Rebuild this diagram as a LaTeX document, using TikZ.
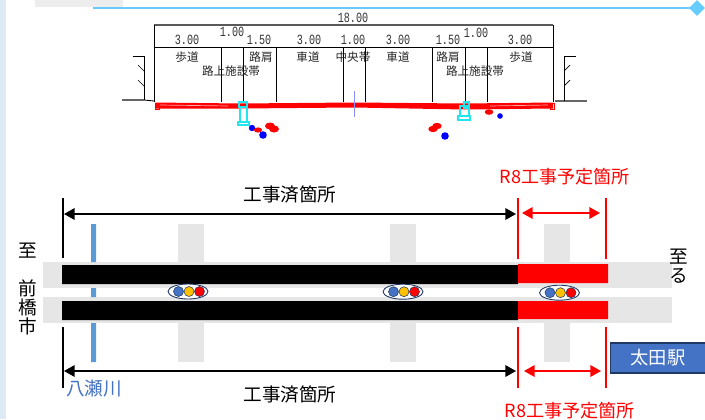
\documentclass[tikz,border=0pt]{standalone}
\usepackage{fontspec}
\usepackage{tikz}
\setmainfont{Noto Sans CJK JP}
\newfontfamily\dimfont[FakeStretch=0.72]{Liberation Mono}
\usetikzlibrary{arrows.meta,shapes.geometric}

\definecolor{stripblue}{HTML}{DEEAF6}
\definecolor{linecyan}{HTML}{66CCFF}
\definecolor{roadgray}{HTML}{E6E6E6}
\definecolor{riverblue}{HTML}{5B9BD5}
\definecolor{boxblue}{HTML}{4472C4}
\definecolor{boxedge}{HTML}{1F3864}
\definecolor{signalgold}{HTML}{FFC000}
\definecolor{pilecyan}{HTML}{22E6EE}

\tikzset{
  dimlabel/.style={inner sep=0pt,font=\dimfont\fontsize{8}{9}\selectfont,text=black!80},
  seclabel/.style={inner sep=0pt,font=\fontsize{6.6}{8}\selectfont,text=black!85},
  biglabel/.style={inner sep=0pt,font=\fontsize{10.6}{10.8}\selectfont,align=center},
  planlabel/.style={inner sep=0pt,font=\fontsize{10.3}{10.8}\selectfont,text=red},
  bigarrow/.style={line width=0.9pt,{Triangle[length=6pt,width=6.5pt]}-{Triangle[length=6pt,width=6.5pt]}},
  redarrow/.style={bigarrow,red},
  endline/.style={line width=0.9pt}
}

\begin{document}
\begin{tikzpicture}[x=0.02cm,y=-0.02cm]
\useasboundingbox (0,0) rectangle (705,419);

% Page furniture
\fill[stripblue] (0,0) rectangle (6,419);
\fill[black!7] (35,0) rectangle (123,7);
\draw[linecyan,line width=1.1pt] (93,8) -- (697,8);
\node[diamond,fill=linecyan,minimum width=0.32cm,minimum height=0.32cm,inner sep=0pt] (mark) at (697,8) {};

% Cross section, dimension lines
\draw[black!65,line width=1.1pt] (154,25) -- (553,25);
\draw[line width=0.55pt] (154,47) -- (553,47);
\foreach \x in {154,221,243,276,343,365,432,465,487,553} {
    \draw[line width=0.55pt] (\x,47) -- (\x,102);
}
\draw[line width=0.55pt] (154,25) -- (154,47);
\draw[line width=0.55pt] (553,25) -- (553,47);

\foreach \x/\y/\val [count=\i] in {353/18/18.00,187/40/3.00,232/32/1.00,259/40/1.50,309/40/3.00,353/40/1.00,398/40/3.00,448/40/1.50,476/33/1.00,520/40/3.00} {
    \node[dimlabel] (dim\i) at (\x,\y) {\val};
}
\foreach \x/\name [count=\i] in {187/歩道,261/路肩,308/車道,353/中央帯,398/車道,448/路肩,521/歩道} {
    \node[seclabel] (sec\i) at (\x,57) {\name};
}
\node[seclabel] (facL) at (231,71) {路上施設帯};
\node[seclabel] (facR) at (475,71) {路上施設帯};

% Ground and walls on both sides
\draw[black!60,line width=0.6pt] (122,100) -- (144,100);
\draw[line width=0.5pt] (144,100) -- (154,101);
\draw[line width=0.5pt] (133,56) -- (144,56) -- (144,100);
\draw[line width=0.4pt] (138,65) -- (144,71) (138,80) -- (144,86);
\draw[black!60,line width=0.6pt] (555,101) -- (587,101);
\draw[line width=0.5pt] (576,56) -- (564,56) -- (564,101);
\draw[line width=0.4pt] (564,71) -- (570,65) (564,86) -- (570,80);

% Pavement
\fill[red] (155,102.5) -- (240,103.5) -- (354,102.5) -- (465,103.5) -- (553,102.5) -- (553,108.5) -- (465,109.5) -- (354,107.5) -- (240,108.5) -- (155,108.5) -- cycle;
\draw[red!35,line width=0.4pt] (160,105) -- (228,106) (490,106) -- (548,105);
\draw[red,line width=0.4pt] (155,103) rectangle (159,109) (550,103) rectangle (554,109);
\draw[blue!45,line width=0.5pt] (354,91) -- (354,117);

% Piles
\draw[pilecyan,line width=1pt] (239,102) rectangle (247,107) (240,107) rectangle (247,122) (238,122) rectangle (249,125);
\draw[pilecyan,line width=1pt] (464,102) rectangle (469,108) (460,106) rectangle (469,116) (458,116) rectangle (470,120);

% Buried pipes
\foreach \x/\y/\r in {252/128/3.2,263/135/3.8,445/136/3.8,500/116/2.8} {
    \fill[blue] (\x,\y) circle (\r);
}
\foreach \x/\y/\r in {258/130/2.6,270/126/3.5,274/129/3.5,433/129/3.2,437/126/3.2,489/112/2.8} {
    \fill[red] (\x,\y) ellipse ({\r+1.5} and \r);
}

% Plan, roads and river
\foreach \x in {178,390,544} {
    \fill[roadgray] (\x,224) rectangle ++(26,38);
    \fill[roadgray] (\x,323) rectangle ++(26,39);
}
\fill[roadgray] (43,262) rectangle (672,288);
\fill[roadgray] (43,297) rectangle (672,323);
\fill[riverblue] (91,224) rectangle (96,262) (91,288) rectangle (96,297) (91,323) rectangle (96,362);

% Sections of the road
\fill[black] (62,265) rectangle (518,284) (62,301) rectangle (518,320);
\fill[red] (518,264) rectangle (608,283) (518,301) rectangle (608,319);

% Signals
\foreach \x/\y [count=\i] in {188/291.5,403/291.7,559.5/292.7} {
    \node[ellipse,draw=boxedge,fill=white,line width=0.5pt,minimum width=0.8cm,minimum height=0.3cm,inner sep=0pt] (signal\i) at (\x,\y) {};
    \fill[boxblue,draw=boxedge,line width=0.3pt] (\x-9.5,\y) circle (5);
    \fill[signalgold,draw=boxedge,line width=0.3pt] (\x+1,\y) circle (5);
    \fill[red,draw=boxedge,line width=0.3pt] (\x+11.5,\y) circle (5);
}

% End lines
\draw[endline] (63,198) -- (63,258) (63,327) -- (63,388);
\draw[endline,red] (518,198) -- (518,259) (518,327) -- (518,388);
\draw[endline,red] (606,198) -- (606,259) (606,327) -- (606,388);

% Arrows and labels
\coordinate (doneTopL) at (64,214);
\coordinate (doneTopR) at (516,214);
\coordinate (doneBotL) at (64,371);
\coordinate (doneBotR) at (516,371);
\coordinate (planTopL) at (522,213);
\coordinate (planTopR) at (600,213);
\coordinate (planBotL) at (524,371);
\coordinate (planBotR) at (601,371);
\draw[bigarrow] (doneTopL) -- (doneTopR);
\draw[bigarrow] (doneBotL) -- (doneBotR);
\draw[redarrow] (planTopL) -- (planTopR);
\draw[redarrow] (planBotL) -- (planBotR);

\node[biglabel] (doneTop) at (290,194) {工事済箇所};
\node[biglabel] (doneBot) at (290,394) {工事済箇所};
\node[planlabel] (planTop) at (565,177) {R8工事予定箇所};
\node[planlabel] (planBot) at (570,411) {R8工事予定箇所};
\node[biglabel] (toL) at (28,251) {至};
\node[biglabel] (cityL) at (28,307) {前\\橋\\市};
\node[biglabel] (toR) at (679,266) {至\\る};
\node[biglabel,text=boxblue] (river) at (94,389) {八瀬川};
\node[draw=boxedge,fill=boxblue,line width=0.9pt,text=white,font=\fontsize{10.4}{12}\selectfont,minimum width=1.9cm,minimum height=0.6cm,inner sep=0pt] (station) at (658,358) {太田駅};
\end{tikzpicture}
\end{document}
